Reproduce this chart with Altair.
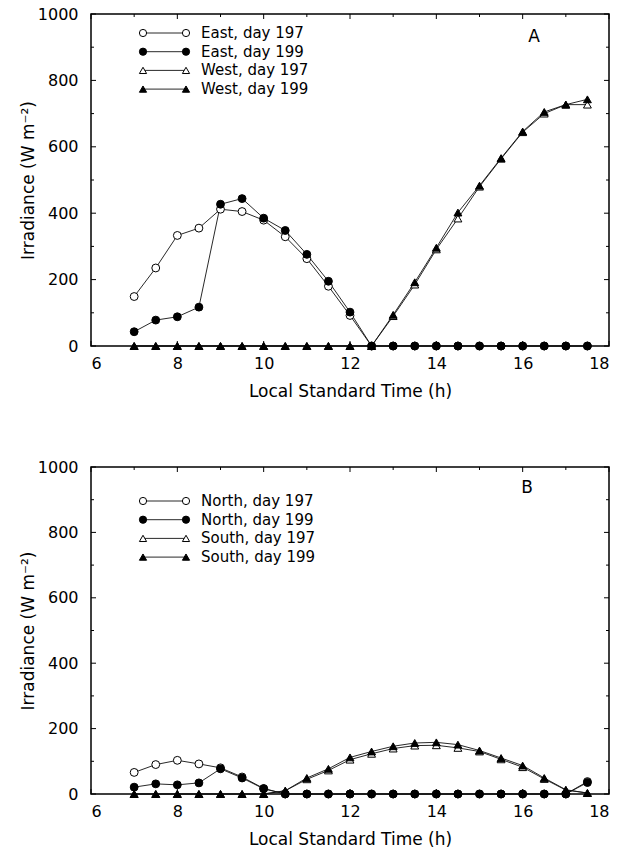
import altair as alt
import pandas as pd

# ---------------- data ----------------
times = [7, 7.5, 8, 8.5, 9, 9.5, 10, 10.5, 11, 11.5, 12, 12.5,
         13, 13.5, 14, 14.5, 15, 15.5, 16, 16.5, 17, 17.5]

east_197 = [149, 235, 333, 355, 412, 405, 379, 329, 263, 180, 92, 0,
            0, 0, 0, 0, 0, 0, 0, 0, 0, 0]
east_199 = [43, 78, 88, 117, 427, 444, 385, 348, 276, 195, 102, 0,
            0, 0, 0, 0, 0, 0, 0, 0, 0, 0]
west_197 = [0, 0, 0, 0, 0, 0, 0, 0, 0, 0, 0, 0,
            90, 185, 291, 384, 480, 564, 644, 700, 727, 727]
west_199 = [0, 0, 0, 0, 0, 0, 0, 0, 0, 0, 0, 0,
            94, 192, 296, 402, 483, 566, 646, 705, 727, 743]

north_197 = [66, 90, 103, 92, 80, 52, 17, 0, 0, 0, 0, 0,
             0, 0, 0, 0, 0, 0, 0, 0, 0, 38]
north_199 = [21, 31, 28, 34, 77, 49, 16, 0, 0, 0, 0, 0,
             0, 0, 0, 0, 0, 0, 0, 0, 0, 35]
south_197 = [0, 0, 0, 0, 0, 0, 0, 10, 45, 72, 105, 123,
             139, 148, 149, 141, 130, 106, 82, 46, 12, 3]
south_199 = [0, 0, 0, 0, 0, 0, 0, 10, 49, 77, 112, 130,
             146, 156, 158, 151, 133, 110, 87, 49, 13, 3]

names_a = ["East, day 197", "East, day 199", "West, day 197", "West, day 199"]
names_b = ["North, day 197", "North, day 199", "South, day 197", "South, day 199"]

x_labels = [6, 8, 10, 12, 14, 16, 18]
x_minor = [7, 9, 11, 13, 15, 17]
y_labels = [0, 200, 400, 600, 800, 1000]
y_minor = [100, 300, 500, 700, 900]

# ---------------- styling ----------------
FONT = "DejaVu Sans"
W = 518
H_A = 332
H_B = 327
SYM = 62

shapes = ["circle", "circle", "triangle-up", "triangle-up"]
fills = ["white", "black", "white", "black"]

xscale = alt.Scale(domain=[6, 18], nice=False, zero=False)
yscale = alt.Scale(domain=[0, 1000], nice=False)
xaxis = alt.Axis(values=x_labels, title="Local Standard Time (h)", labelFontSize=16,
                 titleFontSize=17, titleFontWeight="normal", labelPadding=9,
                 titlePadding=12, labelFont=FONT, titleFont=FONT, labelColor="black",
                 titleColor="black", format="d")
yaxis = alt.Axis(values=y_labels, title="Irradiance (W m⁻²)", labelFontSize=16,
                 titleFontSize=17, titleFontWeight="normal", labelPadding=13,
                 titlePadding=0, labelFont=FONT, titleFont=FONT, labelColor="black",
                 titleColor="black", format="d")


def X(field="t"):
    return alt.X(f"{field}:Q", scale=xscale, axis=xaxis)


def Y(field="v"):
    return alt.Y(f"{field}:Q", scale=yscale, axis=yaxis)


def panel(names, arrays, H, leg_top_px, letter, letter_xy):
    rows = []
    for name, vals in zip(names, arrays):
        for t, v in zip(times, vals):
            rows.append({"t": t, "v": v, "s": name})
    df = pd.DataFrame(rows)

    layers = []
    layers.append(alt.Chart(df).mark_line(color="#111111", strokeWidth=0.9).encode(
        x=X(), y=Y(), detail="s:N"))
    for i in [0, 2, 1, 3]:
        sub = df[df["s"] == names[i]]
        layers.append(alt.Chart(sub).mark_point(
            shape=shapes[i], size=SYM, fill=fills[i], stroke="black",
            strokeWidth=1, opacity=1, fillOpacity=1).encode(x=X(), y=Y()))

    # inward ticks on all four sides
    def yt(vals, ln, right=False):
        d = pd.DataFrame({"v": vals})
        if right:
            return alt.Chart(d).mark_rule(color="black", strokeWidth=1).encode(
                y=Y(), x=alt.value(W), x2=alt.value(W - ln))
        return alt.Chart(d).mark_rule(color="black", strokeWidth=1).encode(
            y=Y(), x=alt.value(0), x2=alt.value(ln))

    def xt(vals, ln, top=False):
        d = pd.DataFrame({"t": vals})
        if top:
            return alt.Chart(d).mark_rule(color="black", strokeWidth=1).encode(
                x=X(), y=alt.value(0), y2=alt.value(ln))
        return alt.Chart(d).mark_rule(color="black", strokeWidth=1).encode(
            x=X(), y=alt.value(H), y2=alt.value(H - ln))

    layers += [yt(y_labels, 5), yt(y_minor, 3), yt(y_labels, 5, True), yt(y_minor, 3, True),
               xt(x_labels, 5), xt(x_minor, 3), xt(x_labels, 5, True), xt(x_minor, 3, True)]

    # legend (positions converted from pixels into data units)
    px_h = W / 12.0
    px_v = H / 1000.0
    t1 = 6 + 52 / px_h
    t2 = 6 + 95 / px_h
    tt = 6 + 110 / px_h
    leg_rows = []
    for i, name in enumerate(names):
        vy = 1000 - (leg_top_px + i * 18.7) / px_v
        leg_rows.append({"s": name, "t": t1, "t2": t2, "tt": tt, "v": vy, "i": i})
    leg = pd.DataFrame(leg_rows)
    layers.append(alt.Chart(leg).mark_rule(color="#111111", strokeWidth=0.9).encode(
        x=X(), x2="t2:Q", y=Y()))
    for i in range(4):
        sub = leg[leg["i"] == i]
        for fld in ["t", "t2"]:
            layers.append(alt.Chart(sub).mark_point(
                shape=shapes[i], size=SYM - 10, fill=fills[i], stroke="black",
                strokeWidth=1, opacity=1, fillOpacity=1).encode(x=X(fld), y=Y()))
    layers.append(alt.Chart(leg).mark_text(
        align="left", baseline="middle", font=FONT, fontSize=15, color="black").encode(
        x=X("tt"), y=Y(), text="s:N"))

    layers.append(alt.Chart(pd.DataFrame({"l": [letter]})).mark_text(
        font=FONT, fontSize=17, color="black", align="center", baseline="middle").encode(
        x=alt.value(letter_xy[0]), y=alt.value(letter_xy[1]), text="l:N"))

    return alt.layer(*layers).properties(width=W, height=H)


pa = panel(names_a, [east_197, east_199, west_197, west_199], H_A, 19, "A", (443, 23))
pb = panel(names_b, [north_197, north_199, south_197, south_199], H_B, 34, "B", (436, 21))

chart = alt.vconcat(pa, pb, spacing=58).properties(
    padding={"left": 18, "top": 5, "right": 5, "bottom": 0},
    background="white",
).configure_view(stroke="black", strokeWidth=1.5).configure_axis(
    grid=False, domain=False, ticks=False)

chart.save("out.html", embed_options={"renderer": "svg", "actions": False})
